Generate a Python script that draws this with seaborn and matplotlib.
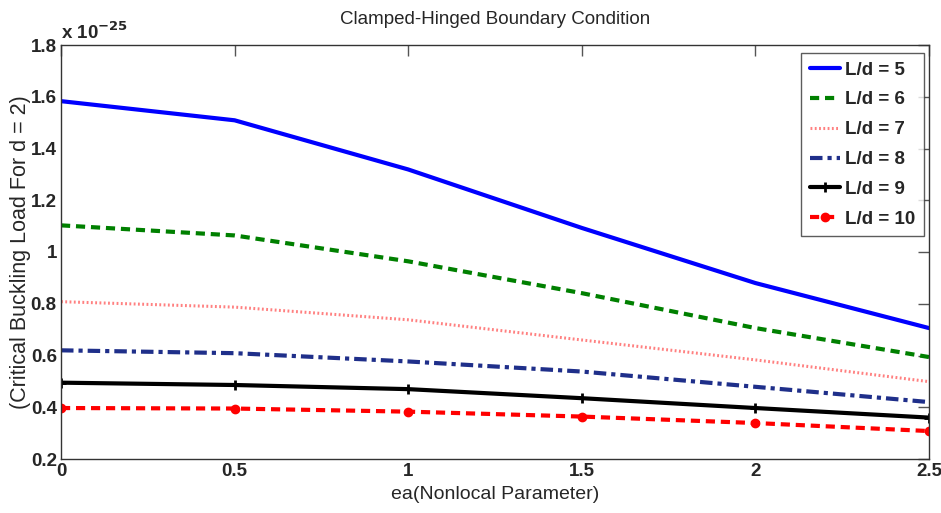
import matplotlib
matplotlib.use("Agg")
import matplotlib.pyplot as plt
import seaborn as sns
import pandas as pd

# Nonlocal parameter ea
ea = [0.0, 0.5, 1.0, 1.5, 2.0, 2.5]

# Critical buckling load (units of 1e-25) for each slenderness ratio L/d
load_ld5 = [1.583, 1.509, 1.319, 1.093, 0.880, 0.706]
load_ld6 = [1.103, 1.064, 0.964, 0.841, 0.706, 0.594]
load_ld7 = [0.808, 0.787, 0.738, 0.660, 0.583, 0.499]
load_ld8 = [0.620, 0.609, 0.577, 0.538, 0.479, 0.420]
load_ld9 = [0.495, 0.486, 0.470, 0.435, 0.397, 0.360]
load_ld10 = [0.397, 0.395, 0.383, 0.364, 0.339, 0.308]

series_labels = ["L/d = 5", "L/d = 6", "L/d = 7", "L/d = 8", "L/d = 9", "L/d = 10"]
series_values = [load_ld5, load_ld6, load_ld7, load_ld8, load_ld9, load_ld10]

x_ticks = [0, 0.5, 1, 1.5, 2, 2.5]
y_ticks = [0.2, 0.4, 0.6, 0.8, 1.0, 1.2, 1.4, 1.6, 1.8]

sns.set_theme(style="white")
plt.rcParams["font.family"] = ["Liberation Sans", "DejaVu Sans"]

styles = [
    dict(color="#0000ff", linestyle="-", lw=3.0, marker=None),
    dict(color="#008000", linestyle=(0, (2.2, 1.4)), lw=3.0, marker=None),
    dict(color="#ff8080", linestyle=(0, (0.6, 0.8)), lw=2.2, marker=None),
    dict(color="#1f2f8a", linestyle=(0, (3, 1.2, 1, 1.2)), lw=3.0, marker=None),
    dict(color="#000000", linestyle="-", lw=3.0, marker="+", ms=7, mew=2),
    dict(color="#ff0000", linestyle=(0, (2.2, 1.4)), lw=3.0, marker="o", ms=6, mew=1),
]

frames = []
for lab, vals in zip(series_labels, series_values):
    frames.append(pd.DataFrame({"ea": ea, "load": vals, "series": lab}))
df = pd.concat(frames, ignore_index=True)

fig = plt.figure(figsize=(9.41, 5.13), dpi=100)
ax = fig.add_axes([61 / 941, 1 - 459 / 513, (929 - 61) / 941, (459 - 45) / 513])

for lab, st in zip(series_labels, styles):
    sub = df[df["series"] == lab]
    kw = dict(color=st["color"], linestyle=st["linestyle"], linewidth=st["lw"], label=lab)
    if st["marker"]:
        kw.update(marker=st["marker"], markersize=st["ms"], markeredgewidth=st["mew"],
                  markeredgecolor=st["color"], markerfacecolor=st["color"])
    sns.lineplot(data=sub, x="ea", y="load", ax=ax, **kw)

ax.set_xlim(0, 2.5)
ax.set_ylim(0.2, 1.8)
ax.set_xticks(x_ticks)
ax.set_xticklabels(["0", "0.5", "1", "1.5", "2", "2.5"])
ax.set_yticks(y_ticks)
ax.set_yticklabels(["0.2", "0.4", "0.6", "0.8", "1", "1.2", "1.4", "1.6", "1.8"])
ax.tick_params(axis="both", direction="in", length=8, width=1, color="#555555",
               top=True, right=True, labelsize=13.5, pad=3)
for t in ax.get_xticklabels() + ax.get_yticklabels():
    t.set_fontweight("bold")
for sp in ax.spines.values():
    sp.set_color("#333333")
    sp.set_linewidth(1.0)

ax.set_xlabel("ea(Nonlocal Parameter)", fontsize=14, labelpad=4)
ax.set_ylabel("(Critical Buckling Load For d = 2)", fontsize=15.5)
ax.yaxis.set_label_coords(-0.035, 0.5)
ax.set_title("Clamped-Hinged Boundary Condition", fontsize=13.5, pad=15)

ax.text(0.0, 1.005, r"x 10$^{\mathbf{-25}}$", transform=ax.transAxes,
        fontsize=13.5, fontweight="bold", ha="left", va="bottom")

leg = ax.legend(loc="upper right", bbox_to_anchor=(0.9942, 0.9807), borderaxespad=0,
                fontsize=13.5, frameon=True, fancybox=False,
                edgecolor="#333333", handlelength=1.6, handletextpad=0.3,
                labelspacing=0.68, borderpad=0.45)
leg.get_frame().set_linewidth(1.0)
for t in leg.get_texts():
    t.set_fontweight("bold")

fig.savefig("out.png", dpi=100)
